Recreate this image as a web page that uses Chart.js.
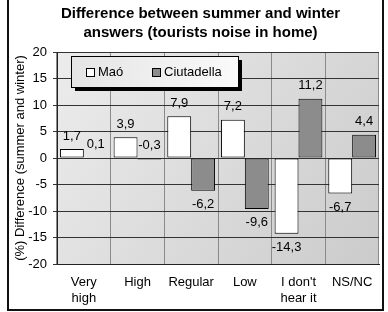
<!DOCTYPE html>
<html lang="en">
<head>
<meta charset="UTF-8">
<title>Difference between summer and winter answers</title>
<script src="https://cdn.jsdelivr.net/npm/chart.js"></script>
<style>
  html, body { margin: 0; padding: 0; background: #fff; }
  #wrap { width: 388px; height: 312px; position: relative; }
</style>
</head>
<body>
<div id="wrap"><canvas id="chart"></canvas></div>
<script>
// data
const categories = [['Very', 'high'], 'High', 'Regular', 'Low', ["I don't", 'hear it'], 'NS/NC'];
const maoValues = [1.7, 3.9, 7.9, 7.2, -14.3, -6.7];
const ciutadellaValues = [0.1, -0.3, -6.2, -9.6, 11.2, 4.4];
const seriesNames = ['Maó', 'Ciutadella'];
const titleLines = ['Difference between summer and winter', 'answers (tourists noise in home)'];
const yAxisTitle = '(%) Difference (summer and winter)';
const yMin = -20, yMax = 20, yStep = 5;

const FONT = '"Liberation Sans", Arial, sans-serif';
const fmt = v => v.toFixed(1).replace('.', ',');

// plot area background (grey gradient)
const plotBg = {
  id: 'plotBg',
  beforeDraw(chart) {
    const { ctx, chartArea: a } = chart;
    ctx.save();
    ctx.fillStyle = '#fff';
    ctx.fillRect(0, 0, chart.width, chart.height);
    const g = ctx.createLinearGradient(a.left, a.top, a.right, a.bottom);
    g.addColorStop(0, '#ececec');
    g.addColorStop(1, '#cbcbcb');
    ctx.fillStyle = g;
    ctx.fillRect(a.left, a.top, a.right - a.left, a.bottom - a.top);
    ctx.restore();
  }
};

// value labels above / below bars
const valueLabels = {
  id: 'valueLabels',
  afterDatasetsDraw(chart) {
    const ctx = chart.ctx;
    ctx.save();
    ctx.font = '13px ' + FONT;
    ctx.fillStyle = '#000';
    ctx.textAlign = 'center';
    ctx.textBaseline = 'middle';
    chart.data.datasets.forEach((ds, i) => {
      chart.getDatasetMeta(i).data.forEach((bar, j) => {
        const v = ds.data[j];
        const top = Math.min(bar.y, bar.base);
        const bottom = Math.max(bar.y, bar.base);
        if (v > -1) ctx.fillText(fmt(v), bar.x, top - 13);
        else ctx.fillText(fmt(v), bar.x, bottom + 14);
      });
    });
    ctx.restore();
  }
};

// legend box inside the plot, with a drop shadow
const boxLegend = {
  id: 'boxLegend',
  afterDraw(chart) {
    const { ctx, chartArea: a } = chart;
    const x = a.left + 14, y = a.top + 4, w = 167, h = 31;
    ctx.save();
    ctx.fillStyle = '#000';
    ctx.fillRect(x + 4, y + 4, w, h);
    const g = ctx.createLinearGradient(x, y, x + w, y + h);
    g.addColorStop(0, '#e4e4e4');
    g.addColorStop(1, '#fafafa');
    ctx.fillStyle = g;
    ctx.fillRect(x, y, w, h);
    ctx.strokeStyle = '#000';
    ctx.lineWidth = 1;
    ctx.strokeRect(x + 0.5, y + 0.5, w, h);
    ctx.font = '13px ' + FONT;
    ctx.textBaseline = 'middle';
    ctx.textAlign = 'left';
    const offsets = [15, 81];
    chart.data.datasets.forEach((ds, i) => {
      const bx = x + offsets[i], by = y + 12;
      ctx.fillStyle = ds.backgroundColor;
      ctx.fillRect(bx, by, 8, 8);
      ctx.strokeRect(bx + 0.5, by + 0.5, 8, 8);
      ctx.fillStyle = '#000';
      ctx.fillText(ds.label, bx + 12, by + 4);
    });
    ctx.restore();
  }
};

// outer frame of the figure
const frame = {
  id: 'frame',
  afterDraw(chart) {
    const ctx = chart.ctx;
    ctx.save();
    ctx.strokeStyle = '#111';
    ctx.lineWidth = 2;
    ctx.strokeRect(8, -5, 375, 315);
    ctx.restore();
  }
};

new Chart(document.getElementById('chart'), {
  type: 'bar',
  data: {
    labels: categories,
    datasets: [
      {
        label: seriesNames[0],
        data: maoValues,
        backgroundColor: '#ffffff',
        borderColor: '#000',
        borderWidth: 1,
        borderSkipped: false,
        categoryPercentage: 0.89,
        barPercentage: 1.0
      },
      {
        label: seriesNames[1],
        data: ciutadellaValues,
        backgroundColor: '#8c8c8c',
        borderColor: '#000',
        borderWidth: 1,
        borderSkipped: false,
        categoryPercentage: 0.89,
        barPercentage: 1.0
      }
    ]
  },
  options: {
    responsive: true,
    maintainAspectRatio: false,
    animation: false,
    devicePixelRatio: 1,
    layout: { padding: { left: 22, right: 9, top: 0, bottom: 0 } },
    plugins: {
      legend: { display: false },
      tooltip: { enabled: false },
      title: {
        display: true,
        text: titleLines,
        color: '#000',
        font: { family: FONT, size: 15, weight: 'bold', lineHeight: 1.3 },
        padding: { top: 4, bottom: 9 }
      }
    },
    scales: {
      x: {
        grid: { color: '#8a8a8a', lineWidth: 1, drawTicks: false, offset: true },
        border: { color: '#222', width: 1 },
        ticks: {
          color: '#000',
          padding: 10,
          maxRotation: 0,
          autoSkip: false,
          font: { family: FONT, size: 13, lineHeight: 1.25 }
        },
        afterFit(scale) { scale.height = 48; }
      },
      y: {
        min: yMin,
        max: yMax,
        ticks: {
          stepSize: yStep,
          color: '#000',
          padding: 6,
          font: { family: FONT, size: 13 }
        },
        grid: { color: '#333', lineWidth: 1, tickLength: 4 },
        border: { color: '#222', width: 1 },
        title: {
          display: true,
          text: yAxisTitle,
          color: '#000',
          font: { family: FONT, size: 13 },
          padding: { top: -9, bottom: 0 }
        },
        afterFit(scale) { scale.width = 35; }
      }
    }
  },
  plugins: [plotBg, valueLabels, boxLegend, frame]
});
</script>
</body>
</html>
